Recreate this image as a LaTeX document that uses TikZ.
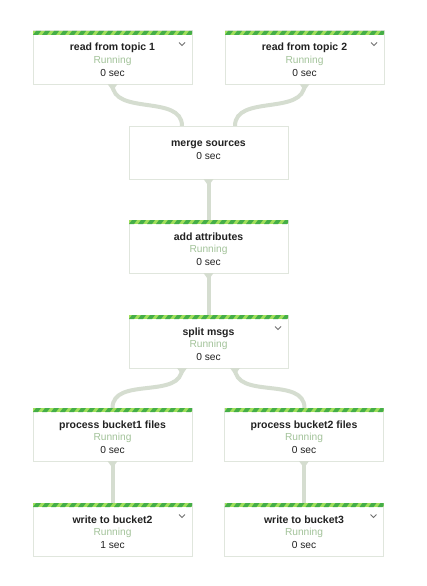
\documentclass[tikz,border=0pt]{standalone}
\usepackage{fontspec}
\setmainfont{Liberation Sans}
\usetikzlibrary{calc}
\definecolor{dg}{HTML}{45AE48}
\definecolor{lg}{HTML}{A2E05C}
\definecolor{brd}{HTML}{E0E6DD}
\definecolor{cnc}{HTML}{D5DDD0}
\definecolor{run}{HTML}{A3C39A}
\definecolor{txt}{HTML}{222222}
\definecolor{chv}{HTML}{707070}
\tikzset{
  box/.style={draw=brd, line width=1pt, fill=white, minimum width=159pt, minimum height=53pt, inner sep=0pt, outer sep=0pt},
  ttl/.style={font=\fontsize{10.5}{12}\selectfont\bfseries, text=txt, anchor=base, inner sep=0pt},
  rn/.style={font=\fontsize{10.2}{12}\selectfont, text=run, anchor=base, inner sep=0pt},
  sc/.style={font=\fontsize{10.2}{12}\selectfont, text=txt, anchor=base, inner sep=0pt},
  conn/.style={draw=cnc, line width=4pt},
  chev/.style={draw=chv, line width=0.8pt},
}
% #1 name, #2 cx, #3 top, #4 title, #5 sec
\newcommand\stgrun[5]{%
  \node[box] (#1) at (#2,{#3+26.5}) {};
  \node[ttl] (#1-t) at (#2,{#3+20}) {#4};
  \node[rn] (#1-r) at (#2,{#3+32.5}) {Running};
  \node[sc] (#1-s) at (#2,{#3+45.5}) {#5};
}
% stripe: #1 cx, #2 top
\newcommand\stgstripe[2]{%
  \begin{scope}
    \clip ({#1-79.5},#2) rectangle ({#1+79.5},{#2+4});
    \fill[lg] ({#1-79.5},#2) rectangle ({#1+79.5},{#2+4});
    \foreach \i in {-1,...,18} {
      \fill[dg] ({#1-79.5+\i*9},{#2+4}) -- ++(5,0) -- ++(3,-4) -- ++(-5,0) -- cycle;
    }
  \end{scope}
}
\newcommand\stgchev[2]{%
  \draw[chev] ({#1+79.5-13},{#2+11.5}) -- ++(3,3) -- ++(3,-3);
}
\newcommand\flare[1]{%
  \fill[cnc] ($(#1)+(-5,0)$) -- ++(10,0) -- ++(-5,7) -- cycle;
}
\begin{document}
\begin{tikzpicture}[x=1pt,y=-1pt]
\useasboundingbox (0,0) rectangle (426,586);
\fill[white] (0,0) rectangle (426,586);

% connectors (drawn beneath boxes)
\coordinate (m-in1) at (182,126);
\coordinate (m-in2) at (235,126);
\coordinate (s-out1) at (182,368);
\coordinate (s-out2) at (235,368);
\draw[conn] (112.5,84) .. controls (112.5,116) and (182,94) .. (m-in1);
\draw[conn] (304.5,84) .. controls (304.5,116) and (235,94) .. (m-in2);
\draw[conn] (208.5,179) -- (208.5,220);
\draw[conn] (208.5,273) -- (208.5,315);
\draw[conn] (s-out1) .. controls (182,400) and (112.5,376) .. (112.5,408);
\draw[conn] (s-out2) .. controls (235,400) and (304.5,376) .. (304.5,408);
\draw[conn] (112.5,462) -- (112.5,503);
\draw[conn] (304,462) -- (304,503);

% stages
\stgrun{t1}{112.5}{31}{read from topic 1}{0 sec}
\stgrun{t2}{304.5}{31}{read from topic 2}{0 sec}

\node[box] (ms) at (208.5,152.5) {};
\node[ttl] (ms-t) at (208.5,146) {merge sources};
\node[sc] (ms-s) at (208.5,159) {0 sec};

\stgrun{aa}{208.5}{220}{add attributes}{0 sec}
\stgrun{sm}{208.5}{315}{split msgs}{0 sec}
\stgrun{p1}{112.5}{408}{process bucket1 files}{0 sec}
\stgrun{p2}{304}{408}{process bucket2 files}{0 sec}
\stgrun{w2}{112.5}{503}{write to bucket2}{1 sec}
\stgrun{w3}{304}{503}{write to bucket3}{0 sec}

% stripes
\stgstripe{112.5}{31}
\stgstripe{304.5}{31}
\stgstripe{208.5}{220}
\stgstripe{208.5}{315}
\stgstripe{112.5}{408}
\stgstripe{304}{408}
\stgstripe{112.5}{503}
\stgstripe{304}{503}

% chevrons
\stgchev{112.5}{31}
\stgchev{304.5}{31}
\stgchev{208.5}{315}
\stgchev{112.5}{503}
\stgchev{304}{503}

% source flares
\flare{t1.south}
\flare{t2.south}
\flare{ms.south}
\flare{aa.south}
\flare{s-out1}
\flare{s-out2}
\flare{p1.south}
\flare{p2.south}
\end{tikzpicture}
\end{document}
